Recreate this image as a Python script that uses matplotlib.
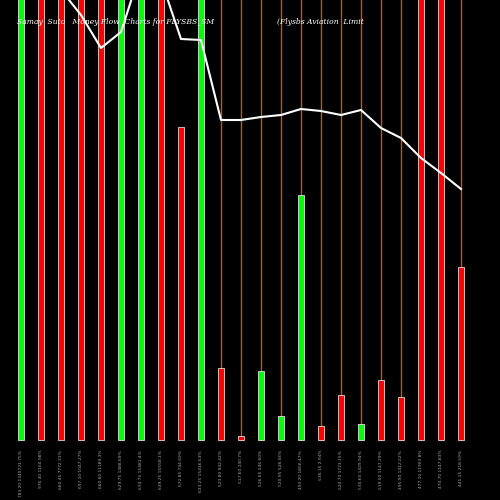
import matplotlib
matplotlib.use("Agg")
import matplotlib.pyplot as plt

# bar heights in chart units (0..440 visible), colors
heights = [520,520,520,520,520,520,520,520,313,520,72,4,69,24,245,14,45,16,60,43,520,520,173]
colors = ['g','r','r','r','r','g','g','r','r','g','r','r','g','g','g','r','r','g','r','r','r','r','r']
line_vals = [490,470,450,425,392,408,470,460,401,400,320,320,323,325,331,329,325,330,312,302,282,267,251]
labels = ["783.20 1345721.75%","976.40 1160.98%","660.45 7772.31%","697.10 1047.27%","660.60 11189.3%",
          "629.75 1488.69%","674.75 15481.4%","639.25 15558.1%","672.85 744.69%","633.25 15416.63%",
          "523.80 942.42%","517.60 240.7%","526.65 546.60%","520.95 528.56%","493.20 1856.47%",
          "536.15 2.94%","520.70 1723.15%","530.60 1429.94%","519.00 1147.29%","495.90 1412.22%",
          "477.10 11903.8%","470.70 1147.83%","441.15 218.59%"]

fig = plt.figure(figsize=(5,5), dpi=100, facecolor='black')
ax = fig.add_axes([0,0,1,1])
ax.set_facecolor('black')
x = [21 + 20*i for i in range(len(heights))]
for i, (xi, h, c) in enumerate(zip(x, heights, colors)):
    if i >= 10:
        ax.plot([xi, xi], [60, 500], color='#c05a00', lw=1.0, zorder=1)
    ax.bar(xi, h, width=6, bottom=60, color='#00ff00' if c == 'g' else '#ff0000',
           edgecolor='white', linewidth=0.5, zorder=2)
    ax.text(xi, 50, labels[i], rotation=90, color='#aaaaaa', fontsize=3.2, ha='center', va='top')
ax.plot(x, [v + 60 for v in line_vals], color='white', lw=1.5, zorder=3)
ax.set_xlim(0, 500)
ax.set_ylim(0, 500)
ax.axis('off')
ax.text(17, 478, "Samay  Suto   Money Flow  Charts for FLYSBS_SM", color='white', fontsize=5.5,
        family='DejaVu Serif', style='italic', va='center')
ax.text(277, 478, "(Flysbs Aviation  Limit", color='white', fontsize=5.5,
        family='DejaVu Serif', style='italic', va='center')
fig.savefig("out.png", facecolor='black')
